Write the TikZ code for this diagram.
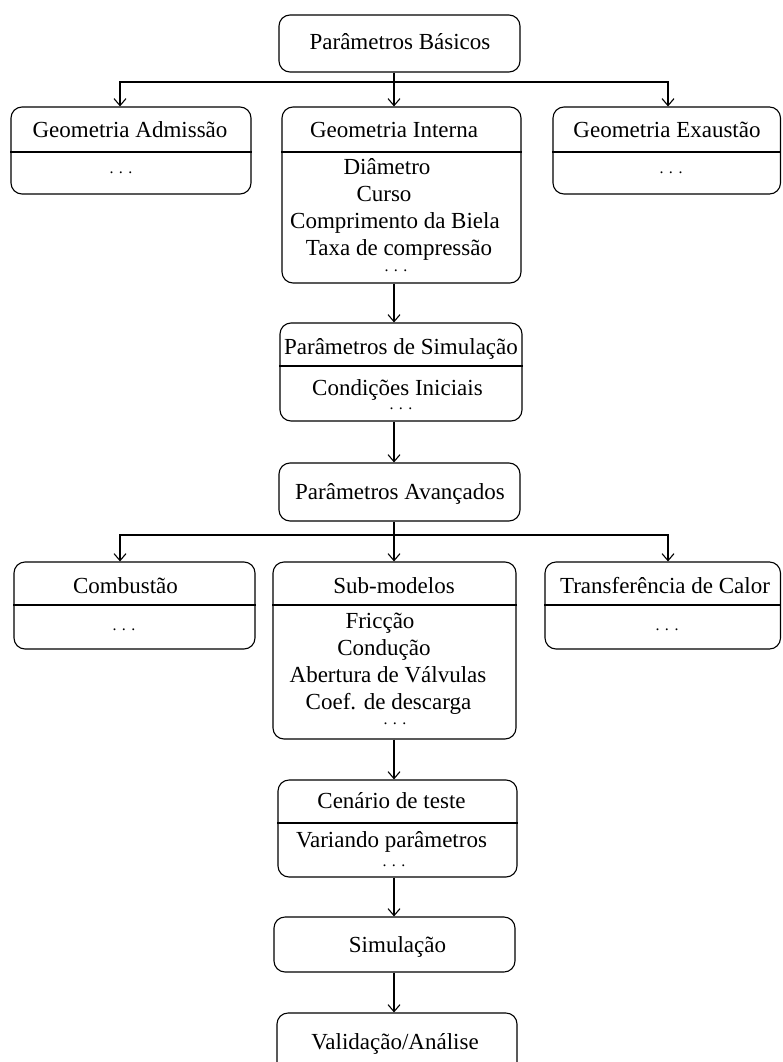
\documentclass[tikz,border=0pt]{standalone}
\usepackage{fontspec}
\setmainfont{Liberation Serif}
\usetikzlibrary{arrows.meta,fit}
\newcommand{\mydots}{.\kern5.5pt.\kern5.5pt.}
\begin{document}
\begin{tikzpicture}[x=1pt,y=-1pt,
  box/.style={draw, line width=1.1pt, rounded corners=11pt, inner sep=0pt},
  txt/.style={anchor=base, inner sep=0pt, font=\fontsize{23}{27}\selectfont},
  dotsty/.style={anchor=base, inner sep=0pt, text height=2pt, text depth=0pt, font=\fontsize{16}{18}\selectfont},
  arr/.style={line width=1.1pt, -{Straight Barb[length=7pt,width=12pt]}},
  ln/.style={line width=1.1pt}]
\useasboundingbox (0,0) rectangle (782,1062);
\clip (0,0) rectangle (782,1062);

% spine and branch coordinates
\coordinate (spine) at (394,0);
\coordinate (xl) at (120,0);
\coordinate (xr) at (668,0);
\coordinate (br1) at (394,82);
\coordinate (br2) at (394,535);

% boxes
\node[box, fit={(279,15) (520,72)}] (top) {};
\node[box, fit={(11,107) (251,194)}] (ga) {};
\node[box, fit={(282,107) (521,283)}] (gi) {};
\node[box, fit={(553,107) (780.5,194)}] (ge) {};
\node[box, fit={(280,323) (522,421)}] (sp) {};
\node[box, fit={(279,463) (520,521)}] (pa) {};
\node[box, fit={(14,562) (255,649)}] (co) {};
\node[box, fit={(273,562) (516,739)}] (sm) {};
\node[box, fit={(545,562) (780.5,649)}] (tc) {};
\node[box, fit={(278,780) (517,877)}] (ct) {};
\node[box, fit={(274,917) (515,972)}] (si) {};
\node[box, fit={(277,1013) (517,1085)}] (va) {};

% dividers
\draw[ln] (ga.west |- 0,152) -- (ga.east |- 0,152);
\draw[ln] (gi.west |- 0,152) -- (gi.east |- 0,152);
\draw[ln] (ge.west |- 0,152) -- (ge.east |- 0,152);
\draw[ln] (sp.west |- 0,366) -- (sp.east |- 0,366);
\draw[ln] (co.west |- 0,605) -- (co.east |- 0,605);
\draw[ln] (sm.west |- 0,605) -- (sm.east |- 0,605);
\draw[ln] (tc.west |- 0,605) -- (tc.east |- 0,605);
\draw[ln] (ct.west |- 0,823) -- (ct.east |- 0,823);

% texts
\node[txt] (t-top) at (400,50) {Parâmetros Básicos};
\node[txt] (t-ga) at (130,138) {Geometria Admissão};
\node[dotsty] (d-ga) at (121,173) {\mydots};
\node[txt] (t-gi) at (394,138) {Geometria Interna};
\node[txt] (t-gi1) at (387,174) {Diâmetro};
\node[txt] (t-gi2) at (384,201) {Curso};
\node[txt] (t-gi3) at (395,228) {Comprimento da Biela};
\node[txt] (t-gi4) at (399,255) {Taxa de compressão};
\node[dotsty] (d-gi) at (396,271) {\mydots};
\node[txt] (t-ge) at (667,138) {Geometria Exaustão};
\node[dotsty] (d-ge) at (671,173) {\mydots};
\node[txt] (t-sp) at (401,354) {Parâmetros de Simulação};
\node[txt] (t-sp1) at (397.5,395) {Condições Iniciais};
\node[dotsty] (d-sp) at (401,409) {\mydots};
\node[txt] (t-pa) at (400,499) {Parâmetros Avançados};
\node[txt] (t-co) at (125.5,593) {Combustão};
\node[dotsty] (d-co) at (124,630) {\mydots};
\node[txt] (t-sm) at (394,593) {Sub-modelos};
\node[txt] (t-sm1) at (380,628) {Fricção};
\node[txt] (t-sm2) at (384,655) {Condução};
\node[txt] (t-sm3) at (388,682) {Abertura de Válvulas};
\node[txt] (t-sm4) at (388.5,709) {Coef. de descarga};
\node[dotsty] (d-sm) at (395,724) {\mydots};
\node[txt] (t-tc) at (665,593) {Transferência de Calor};
\node[dotsty] (d-tc) at (667,630) {\mydots};
\node[txt] (t-ct) at (391.5,808) {Cenário de teste};
\node[txt] (t-ct1) at (391.5,847) {Variando parâmetros};
\node[dotsty] (d-ct) at (394,866) {\mydots};
\node[txt] (t-si) at (397.5,952) {Simulação};
\node[txt] (t-va) at (395,1049) {Validação/Análise};

% connectors
\draw[ln] (top.south -| spine) -- (br1);
\draw[arr] (br1) -| (ga.north -| xl);
\draw[arr] (br1) -- (gi.north -| spine);
\draw[arr] (br1) -| (ge.north -| xr);
\draw[arr] (gi.south -| spine) -- (sp.north -| spine);
\draw[arr] (sp.south -| spine) -- (pa.north -| spine);
\draw[ln] (pa.south -| spine) -- (br2);
\draw[arr] (br2) -| (co.north -| xl);
\draw[arr] (br2) -- (sm.north -| spine);
\draw[arr] (br2) -| (tc.north -| xr);
\draw[arr] (sm.south -| spine) -- (ct.north -| spine);
\draw[arr] (ct.south -| spine) -- (si.north -| spine);
\draw[arr] (si.south -| spine) -- (va.north -| spine);
\end{tikzpicture}
\end{document}
